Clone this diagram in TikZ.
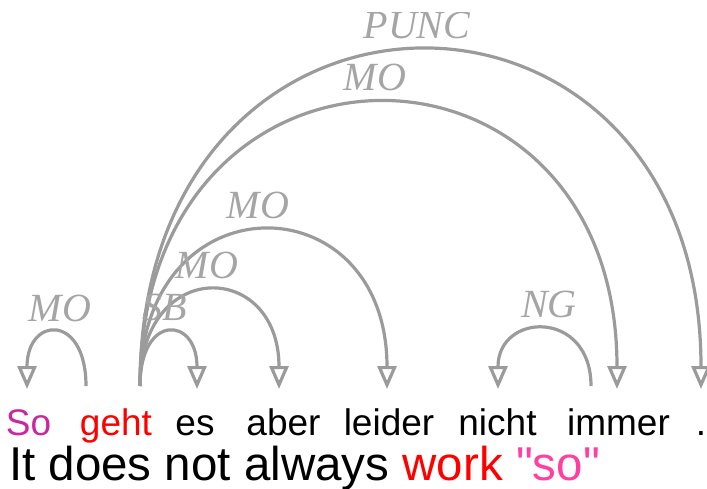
\documentclass[tikz,border=0pt]{standalone}
\usepackage{fontspec}
\setmainfont{Liberation Sans}[Ligatures=TeXOff]
\newfontfamily\labfont{Liberation Serif}
\usetikzlibrary{arrows.meta}
\definecolor{arcgray}{RGB}{155,155,155}
\definecolor{labgray}{RGB}{165,165,165}
\definecolor{somag}{RGB}{200,40,160}
\definecolor{sopink}{RGB}{255,64,160}
\begin{document}
\begin{tikzpicture}[x=1pt,y=-1pt,
  word/.style={anchor=base, inner sep=0pt, font=\fontsize{37}{42}\selectfont},
  trans/.style={anchor=base west, inner sep=0pt, font=\fontsize{47.5}{52}\selectfont},
  deplab/.style={inner sep=0pt, text=labgray, font=\labfont\itshape\fontsize{40}{44}\selectfont},
  deparc/.style={draw=arcgray, line width=3.2pt, -{Triangle[open,length=23pt,width=19pt]}}]
\useasboundingbox (0,0) rectangle (707,489);
% words
\node[word, text=somag] (w1) at (28.5,435) {So};
\node[word, text=red] (w2) at (116,435) {geht};
\node[word] (w3) at (195,435) {es};
\node[word] (w4) at (283.5,435) {aber};
\node[word] (w5) at (389,435) {leider};
\node[word] (w6) at (497.5,435) {nicht};
\node[word] (w7) at (618.5,435) {immer};
\node[word] (w8) at (701,435) {.};
% translation
\node[trans] (tr) at (9,480) {It does not always \textcolor{red}{work} \textcolor{sopink}{"so"}};
% arc end points
\coordinate (so-out) at (86,386);
\coordinate (so-in) at (27,389);
\coordinate (geht-out) at (140,386);
\coordinate (es-in) at (197,389);
\coordinate (aber-in) at (279,389);
\coordinate (leider-in) at (387,389);
\coordinate (immer-out) at (591,386);
\coordinate (nicht-in) at (498,389);
\coordinate (immer-in) at (617,389);
\coordinate (punc-in) at (701,389);
% arcs
\draw[deparc] (so-out) .. controls +(0,-73) and +(0,-73) .. (so-in);
\draw[deparc] (geht-out) .. controls +(0,-73) and +(0,-73) .. (es-in);
\draw[deparc] (geht-out) .. controls +(0,-129) and +(0,-129) .. (aber-in);
\draw[deparc] (geht-out) .. controls +(0,-209) and +(0,-209) .. (leider-in);
\draw[deparc] (immer-out) .. controls +(0,-77) and +(0,-77) .. (nicht-in);
\draw[deparc] (geht-out) .. controls +(0,-379) and +(0,-379) .. (immer-in);
\draw[deparc] (geht-out) .. controls +(0,-449) and +(0,-449) .. (punc-in);
% labels
\node[deplab] (l1) at (60,308) {MO};
\node[deplab] (l2) at (165,307) {SB};
\node[deplab] (l3) at (207,265) {MO};
\node[deplab] (l4) at (258,205) {MO};
\node[deplab] (l5) at (549,304) {NG};
\node[deplab] (l6) at (375,77) {MO};
\begin{scope}
\clip (0,13) rectangle (707,489);
\node[deplab] (l7) at (417,25) {PUNC};
\end{scope}
\end{tikzpicture}
\end{document}
